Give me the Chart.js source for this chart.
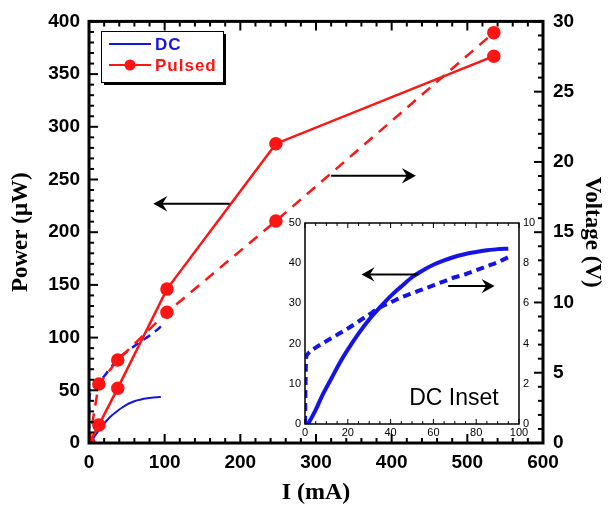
<!DOCTYPE html>
<html>
<head>
<meta charset="utf-8">
<script src="https://cdn.jsdelivr.net/npm/chart.js@4.4.0/dist/chart.umd.min.js"></script>
<style>
  html, body { margin: 0; padding: 0; background: #fff; }
  #wrap { position: relative; width: 608px; height: 510px; }
  #main { position: absolute; left: 0; top: 0; }
  #inset { position: absolute; left: 270px; top: 205px; }
</style>
</head>
<body>
<div id="wrap">
  <canvas id="main" width="608" height="510"></canvas>
  <canvas id="inset" width="285" height="240"></canvas>
</div>
<script>
// pulsed measurement
const pulsedCurrent = [0, 13, 38, 103, 247, 535];        // mA
const pulsedPower   = [0, 17, 52, 146, 284, 367];        // µW
const pulsedVoltage = [0, 4.2, 5.9, 9.3, 15.8, 29.2];    // V

// DC sweep (also shown in the inset)
const dcCurrent = [0, 0.5, 1, 3, 5, 8, 12, 16, 20, 25, 30, 35, 40, 45, 50, 55, 60, 65, 70, 75, 80, 85, 90, 95];
const dcPower   = [0, 0, 0, 1.5, 3.5, 7, 11, 15, 18.5, 22.5, 26, 29, 31.8, 34.2, 36.5, 38.2, 39.6, 40.7, 41.6, 42.3, 42.8, 43.2, 43.5, 43.6];
const dcVoltage = [0, 3.2, 3.45, 3.65, 3.8, 4.0, 4.25, 4.5, 4.75, 5.1, 5.45, 5.8, 6.05, 6.3, 6.5, 6.7, 6.9, 7.1, 7.3, 7.45, 7.65, 7.85, 8.05, 8.3];

// tick labels
const mainXTicks  = [0, 100, 200, 300, 400, 500, 600];
const mainYTicks  = [0, 50, 100, 150, 200, 250, 300, 350, 400];
const mainY2Ticks = [0, 5, 10, 15, 20, 25, 30];
const insetXTicks  = [0, 20, 40, 60, 80, 100];
const insetYTicks  = [0, 10, 20, 30, 40, 50];
const insetY2Ticks = [0, 2, 4, 6, 8, 10];

const BLUE = '#1414e6';
const RED = '#ff1414';
const TICK_FONT = 'Liberation Sans, Arial, sans-serif';
const TITLE_FONT = 'Liberation Serif, Times New Roman, serif';

const toXY = (xs, ys) => xs.map((x, i) => ({ x: x, y: ys[i] }));
const useTicks = list => scale => { scale.ticks = list.map(v => ({ value: v })); };
const noGrid = { display: false, drawTicks: false, tickLength: 0 };

// frame around the plot + inward tick marks
const frameTicks = {
  id: 'frameTicks',
  beforeDatasetsDraw(chart, args, opts) {
    if (!opts.fill) return;
    const a = chart.chartArea;
    chart.ctx.save();
    chart.ctx.fillStyle = opts.fill;
    chart.ctx.fillRect(a.left, a.top, a.width, a.height);
    chart.ctx.restore();
  },
  afterDatasetsDraw(chart, args, opts) {
    const ctx = chart.ctx, a = chart.chartArea;
    ctx.save();
    ctx.strokeStyle = '#000';
    ctx.lineWidth = opts.tickWidth;
    opts.marks.forEach(m => {
      const s = chart.scales[m.scale];
      for (let v = s.min; v <= s.max + 1e-9; v += m.minor) {
        const major = Math.abs(v / m.major - Math.round(v / m.major)) < 1e-6;
        const len = major ? opts.majorLen : opts.minorLen;
        const p = s.getPixelForValue(v);
        ctx.beginPath();
        m.sides.forEach(side => {
          if (side === 'bottom') { ctx.moveTo(p, a.bottom); ctx.lineTo(p, a.bottom - len); }
          if (side === 'top')    { ctx.moveTo(p, a.top);    ctx.lineTo(p, a.top + len); }
          if (side === 'left')   { ctx.moveTo(a.left, p);   ctx.lineTo(a.left + len, p); }
          if (side === 'right')  { ctx.moveTo(a.right, p);  ctx.lineTo(a.right - len, p); }
        });
        ctx.stroke();
      }
    });
    ctx.lineWidth = opts.frameWidth;
    ctx.strokeRect(a.left, a.top, a.width, a.height);
    ctx.restore();
  }
};

// black arrows pointing to the axis each curve belongs to
const arrows = {
  id: 'arrows',
  afterDatasetsDraw(chart, args, opts) {
    const ctx = chart.ctx, sx = chart.scales.x, sy = chart.scales.y;
    ctx.save();
    ctx.strokeStyle = '#000';
    ctx.fillStyle = '#000';
    ctx.lineWidth = opts.width;
    opts.items.forEach(it => {
      const x1 = sx.getPixelForValue(it.from[0]), y1 = sy.getPixelForValue(it.from[1]);
      const x2 = sx.getPixelForValue(it.to[0]), y2 = sy.getPixelForValue(it.to[1]);
      const ang = Math.atan2(y2 - y1, x2 - x1);
      const L = opts.head, W = opts.head * 0.55;
      ctx.beginPath();
      ctx.moveTo(x1, y1);
      ctx.lineTo(x2 - Math.cos(ang) * L * 0.6, y2 - Math.sin(ang) * L * 0.6);
      ctx.stroke();
      ctx.save();
      ctx.translate(x2, y2);
      ctx.rotate(ang);
      ctx.beginPath();
      ctx.moveTo(0, 0);
      ctx.lineTo(-L, -W);
      ctx.lineTo(-L * 0.65, 0);
      ctx.lineTo(-L, W);
      ctx.closePath();
      ctx.fill();
      ctx.restore();
    });
    if (opts.text) {
      const t = opts.text;
      ctx.font = t.font;
      ctx.fillStyle = '#000';
      ctx.textAlign = 'center';
      ctx.textBaseline = 'middle';
      ctx.fillText(t.label, sx.getPixelForValue(t.at[0]), sy.getPixelForValue(t.at[1]));
    }
    ctx.restore();
  }
};

// boxed legend with a drop shadow, inside the plot
const boxLegend = {
  id: 'boxLegend',
  afterDraw(chart, args, opts) {
    const ctx = chart.ctx;
    const [x, y, w, h] = opts.box;
    ctx.save();
    ctx.fillStyle = '#000';
    ctx.fillRect(x + 3, y + 3, w, h);
    ctx.fillStyle = '#fff';
    ctx.fillRect(x, y, w, h);
    ctx.strokeStyle = '#000';
    ctx.lineWidth = 1;
    ctx.strokeRect(x + 0.5, y + 0.5, w, h);
    ctx.font = opts.font;
    ctx.textBaseline = 'middle';
    opts.labels.forEach((lab, i) => {
      const ds = chart.data.datasets.find(d => d.label === lab);
      const ly = y + opts.firstRow + i * opts.rowGap;
      ctx.strokeStyle = ds.borderColor;
      ctx.lineWidth = 2;
      ctx.beginPath();
      ctx.moveTo(x + 8, ly);
      ctx.lineTo(x + 50, ly);
      ctx.stroke();
      if (ds.pointRadius > 0) {
        ctx.fillStyle = ds.backgroundColor;
        ctx.beginPath();
        ctx.arc(x + 29, ly, ds.pointRadius, 0, Math.PI * 2);
        ctx.fill();
      }
      ctx.fillStyle = ds.borderColor;
      ctx.letterSpacing = '1px';
      ctx.fillText(lab, x + 54, ly + 1);
    });
    ctx.restore();
  }
};

const tickFont = { family: TICK_FONT, size: 19, weight: 'bold' };
const titleFont = { family: TITLE_FONT, size: 23, weight: 'bold' };

new Chart(document.getElementById('main'), {
  type: 'line',
  data: {
    datasets: [
      { label: 'Pulsed', data: toXY(pulsedCurrent, pulsedPower), yAxisID: 'y',
        borderColor: RED, backgroundColor: RED, borderWidth: 2.5,
        pointRadius: 5.5, pointHoverRadius: 5.5, tension: 0, order: 0 },
      { label: 'Pulsed voltage', data: toXY(pulsedCurrent, pulsedVoltage), yAxisID: 'y2',
        borderColor: RED, backgroundColor: RED, borderWidth: 2.5, borderDash: [11, 8],
        pointRadius: 5.5, pointHoverRadius: 5.5, tension: 0, order: 0 },
      { label: 'DC', data: toXY(dcCurrent, dcPower), yAxisID: 'y',
        borderColor: BLUE, backgroundColor: BLUE, borderWidth: 2,
        pointRadius: 0, cubicInterpolationMode: 'monotone', order: 1 },
      { label: 'DC voltage', data: toXY(dcCurrent, dcVoltage), yAxisID: 'y2',
        borderColor: BLUE, backgroundColor: BLUE, borderWidth: 2.5, borderDash: [8, 6],
        pointRadius: 0, cubicInterpolationMode: 'monotone', order: 1 }
    ]
  },
  options: {
    responsive: false,
    animation: false,
    events: [],
    layout: { padding: { top: 17 } },
    plugins: {
      legend: { display: false },
      tooltip: { enabled: false },
      frameTicks: {
        frameWidth: 3, tickWidth: 2, majorLen: 9, minorLen: 5,
        marks: [
          { scale: 'x', minor: 20, major: 100, sides: ['bottom', 'top'] },
          { scale: 'y', minor: 10, major: 50, sides: ['left'] },
          { scale: 'y2', minor: 1, major: 5, sides: ['right'] }
        ]
      },
      arrows: {
        width: 2, head: 14,
        items: [
          { from: [186, 227], to: [85, 227] },
          { from: [320, 253.5], to: [432, 253.5] }
        ]
      },
      boxLegend: {
        box: [101, 31, 122, 51], font: 'bold 17px ' + TICK_FONT,
        labels: ['DC', 'Pulsed'], firstRow: 13, rowGap: 21
      }
    },
    scales: {
      x: {
        type: 'linear', min: 0, max: 600,
        afterBuildTicks: useTicks(mainXTicks),
        afterFit: s => { s.height = 67; },
        grid: noGrid, border: { display: false },
        ticks: { color: '#000', font: tickFont, padding: 8, maxRotation: 0 },
        title: { display: true, text: 'I (mA)', color: '#000', font: { family: TITLE_FONT, size: 24, weight: 'bold' }, padding: { top: 0, bottom: 3 } }
      },
      y: {
        type: 'linear', position: 'left', min: 0, max: 400,
        afterBuildTicks: useTicks(mainYTicks),
        afterFit: s => { s.width = 89; },
        grid: noGrid, border: { display: false },
        ticks: { color: '#000', font: tickFont, padding: 9 },
        title: { display: true, text: 'Power (μW)', color: '#000', font: titleFont, padding: { top: 7, bottom: 0 } }
      },
      y2: {
        type: 'linear', position: 'right', min: 0, max: 30,
        afterBuildTicks: useTicks(mainY2Ticks),
        afterFit: s => { s.width = 65; },
        grid: noGrid, border: { display: false },
        ticks: { color: '#000', font: tickFont, padding: 10 },
        title: { display: true, text: 'Voltage (V)', color: '#000', font: titleFont, padding: { top: 2, bottom: 0 } }
      }
    }
  },
  plugins: [frameTicks, arrows, boxLegend]
});

const insetFont = { family: TICK_FONT, size: 11 };

new Chart(document.getElementById('inset'), {
  type: 'line',
  data: {
    datasets: [
      { label: 'DC', data: toXY(dcCurrent, dcPower), yAxisID: 'y',
        borderColor: BLUE, borderWidth: 4, pointRadius: 0,
        cubicInterpolationMode: 'monotone' },
      { label: 'DC voltage', data: toXY(dcCurrent, dcVoltage), yAxisID: 'y2',
        borderColor: BLUE, borderWidth: 4, borderDash: [8, 5], pointRadius: 0,
        cubicInterpolationMode: 'monotone' }
    ]
  },
  options: {
    responsive: false,
    animation: false,
    events: [],
    layout: { padding: { top: 18 } },
    plugins: {
      legend: { display: false },
      tooltip: { enabled: false },
      frameTicks: {
        fill: '#fff', frameWidth: 1.5, tickWidth: 1, majorLen: 5, minorLen: 3,
        marks: [
          { scale: 'x', minor: 5, major: 20, sides: ['bottom', 'top'] }
        ]
      },
      arrows: {
        width: 2, head: 13,
        items: [
          { from: [52.9, 37.2], to: [26.4, 37.2] },
          { from: [66.9, 34.3], to: [88.6, 34.3] }
        ],
        text: { label: 'DC Inset', at: [69.6, 6.2], font: '23px ' + TICK_FONT }
      }
    },
    scales: {
      x: {
        type: 'linear', min: 0, max: 100,
        afterBuildTicks: useTicks(insetXTicks),
        afterFit: s => { s.height = 21; },
        grid: noGrid, border: { display: false },
        ticks: { color: '#000', font: insetFont, padding: 2, maxRotation: 0 }
      },
      y: {
        type: 'linear', position: 'left', min: 0, max: 50,
        afterBuildTicks: useTicks(insetYTicks),
        afterFit: s => { s.width = 35; },
        grid: noGrid, border: { display: false },
        ticks: { color: '#000', font: insetFont, padding: 4 }
      },
      y2: {
        type: 'linear', position: 'right', min: 0, max: 10,
        afterBuildTicks: useTicks(insetY2Ticks),
        afterFit: s => { s.width = 36; },
        grid: noGrid, border: { display: false },
        ticks: { color: '#000', font: insetFont, padding: 4 }
      }
    }
  },
  plugins: [frameTicks, arrows]
});
</script>
</body>
</html>
